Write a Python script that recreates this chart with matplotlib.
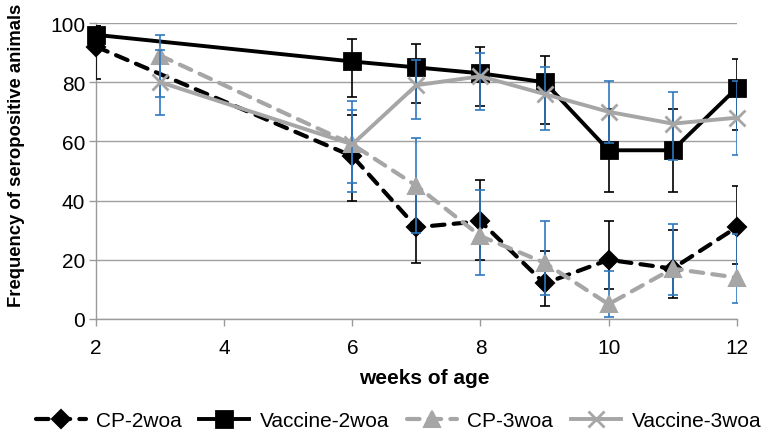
import matplotlib
matplotlib.use("Agg")
import matplotlib.pyplot as plt
import numpy as np

plt.rcParams['font.family'] = ['Liberation Sans', 'DejaVu Sans']

# semaines d'age
weeks_2woa = [2, 6, 7, 8, 9, 10, 11, 12]
weeks_3woa = [3, 6, 7, 8, 9, 10, 11, 12]

# valeurs (%)
cp_2woa = [92, 55, 31, 33, 12, 20, 17, 31]
vac_2woa = [96, 87, 85, 83, 80, 57, 57, 78]
cp_3woa = [89, 59, 45, 28, 19, 5, 17, 14]
vac_3woa = [80, 59, 79, 82, 76, 70, 66, 68]

# bornes des barres d'erreur (bas / haut)
cp_2woa_lo = [81, 40, 19, 20, 4.5, 10, 7, 18.6]
cp_2woa_hi = [99, 69, 43, 47, 23, 33, 30, 45]
vac_2woa_lo = [93, 75, 73, 72, 66, 43, 43, 64]
vac_2woa_hi = [99, 94.5, 93, 92, 89, 71, 71, 88]
cp_3woa_lo = [75, 43, 29, 15, 8, 0.6, 8, 5.3]
cp_3woa_hi = [96, 73.5, 61, 43.5, 33, 16.3, 32, 28.7]
vac_3woa_lo = [69, 46, 67.5, 70.5, 64, 59.5, 53.7, 55.4]
vac_3woa_hi = [91, 70.5, 87.5, 89.7, 85, 80.5, 76.7, 80.5]

labels = ["CP-2woa", "Vaccine-2woa", "CP-3woa", "Vaccine-3woa"]

GREY = "#A6A6A6"
BLUE = "#2F78C0"

def yerr(v, lo, hi):
    v = np.array(v)
    return [v - np.array(lo), np.array(hi) - v]

fig = plt.figure(figsize=(7.69, 4.35), dpi=100)
ax = fig.add_axes([0.125, 0.2644, 0.833, 0.6804])

series = [
    (weeks_2woa, cp_2woa, cp_2woa_lo, cp_2woa_hi, "black", "--", "D", 9, "black"),
    (weeks_2woa, vac_2woa, vac_2woa_lo, vac_2woa_hi, "black", "-", "s", 11, "black"),
    (weeks_3woa, cp_3woa, cp_3woa_lo, cp_3woa_hi, GREY, "--", "^", 12, BLUE),
    (weeks_3woa, vac_3woa, vac_3woa_lo, vac_3woa_hi, GREY, "-", "x", 11, BLUE),
]

handles = []
for i, (x, y, lo, hi, c, ls, m, ms, ec) in enumerate(series):
    ax.errorbar(x, y, yerr=yerr(y, lo, hi), fmt="none", ecolor=ec,
                elinewidth=1.2, capsize=3.5, capthick=1.2, zorder=3 + 2 * i)
    if ls == "--":
        line, = ax.plot(x, y, color=c, lw=3.0, dashes=(3, 2.2), marker=m,
                        ms=ms, mec=c, mfc=c, mew=1.5, zorder=4 + 2 * i,
                        dash_capstyle="round", clip_on=False, label=labels[i])
    else:
        line, = ax.plot(x, y, color=c, lw=2.8, marker=m, ms=ms, mec=c,
                        mfc=c, mew=2.0, zorder=4 + 2 * i, clip_on=False,
                        label=labels[i])
    handles.append(line)

ax.set_xlim(2, 12)
ax.set_ylim(0, 100)
ax.set_xticks([2, 4, 6, 8, 10, 12])
ax.set_yticks([0, 20, 40, 60, 80, 100])
ax.grid(axis="y", color="#A0A0A0", lw=1.0)
ax.set_axisbelow(True)
for s in ["top", "right"]:
    ax.spines[s].set_visible(False)
for s in ["left", "bottom"]:
    ax.spines[s].set_color("#9A9A9A")
    ax.spines[s].set_linewidth(1.0)
ax.tick_params(axis="both", colors="#9A9A9A", labelcolor="black",
               labelsize=15, length=5, width=1.0)
ax.tick_params(axis="x", pad=9)
ax.tick_params(axis="y", pad=3)

ax.set_xlabel("weeks of age", fontsize=15, fontweight="bold")
ax.xaxis.set_label_coords(0.513, -0.165)
ax.set_ylabel("Frequency of seropositive animals", fontsize=13.3,
              fontweight="bold")
ax.yaxis.set_label_coords(-0.111, 0.557)

fig.legend(handles=handles, loc="center", bbox_to_anchor=(0.518, 0.03),
           ncol=4, frameon=False, fontsize=15, handlelength=2.4,
           handletextpad=0.5, columnspacing=0.85, borderpad=0.2)

fig.savefig("out.png", dpi=100)
